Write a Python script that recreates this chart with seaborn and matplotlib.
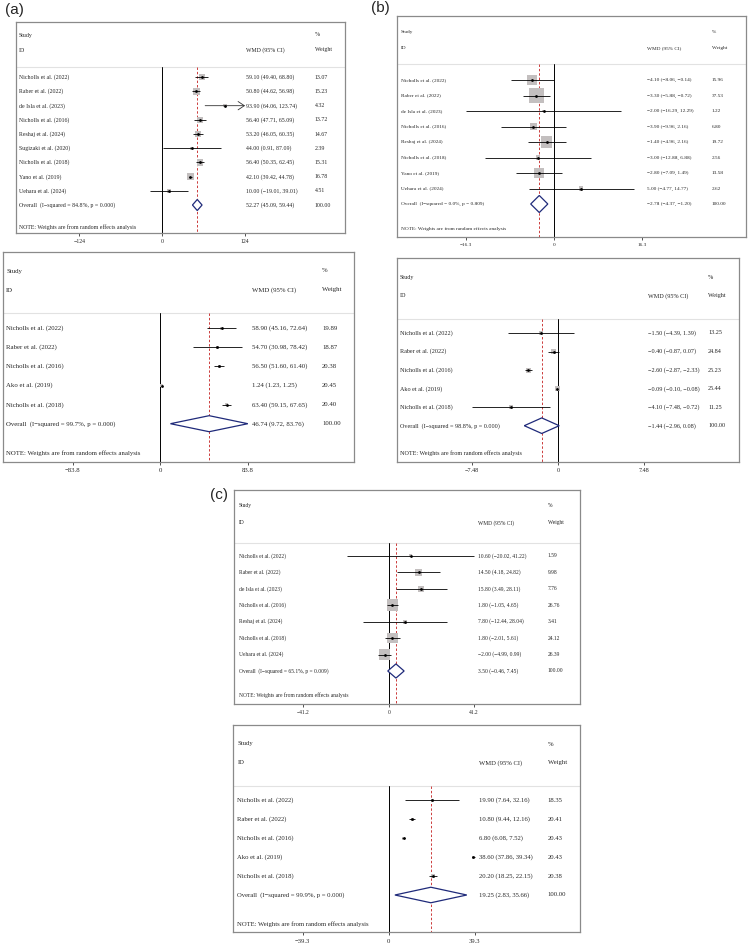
import numpy as np
import seaborn as sns
import matplotlib.pyplot as plt
from matplotlib.transforms import blended_transform_factory

# ---- (a) upper panel
studies_a1 = ["Nicholls et al. (2022)", "Raber et al. (2022)", "de Isla et al. (2023)",
              "Nicholls et al. (2016)", "Reshaj et al. (2024)", "Sugizaki et al. (2020)",
              "Nicholls et al. (2018)", "Yano et al. (2019)", "Uehara et al. (2024)"]
est_a1 = [59.10, 50.80, 93.90, 56.40, 53.20, 44.00, 56.40, 42.10, 10.00]
lo_a1 = [49.40, 44.62, 64.06, 47.71, 46.05, 0.91, 50.35, 39.42, -19.01]
hi_a1 = [68.80, 56.98, 123.74, 65.09, 60.35, 87.09, 62.45, 44.78, 39.01]
w_a1 = [13.07, 15.23, 4.32, 13.72, 14.67, 2.39, 15.31, 16.78, 4.51]
arrow_a1 = [False, False, True, False, False, False, False, False, False]
overall_a1 = (52.27, 45.09, 59.44)
het_a1 = ("84.8%", "0.000")
tick_a1 = 124

# ---- (a) lower panel
studies_a2 = ["Nicholls et al. (2022)", "Raber et al. (2022)", "Nicholls et al. (2016)",
              "Ako et al. (2019)", "Nicholls et al. (2018)"]
est_a2 = [58.90, 54.70, 56.50, 1.24, 63.40]
lo_a2 = [45.16, 30.98, 51.60, 1.23, 59.15]
hi_a2 = [72.64, 78.42, 61.40, 1.25, 67.65]
w_a2 = [19.89, 18.87, 20.38, 20.45, 20.40]
overall_a2 = (46.74, 9.72, 83.76)
het_a2 = ("99.7%", "0.000")
tick_a2 = 83.8

# ---- (b) upper panel
studies_b1 = ["Nicholls et al. (2022)", "Raber et al. (2022)", "de Isla et al. (2023)",
              "Nicholls et al. (2016)", "Reshaj et al. (2024)", "Nicholls et al. (2018)",
              "Yano et al. (2019)", "Uehara et al. (2024)"]
est_b1 = [-4.10, -3.30, -2.00, -3.90, -1.40, -3.00, -2.80, 5.00]
lo_b1 = [-8.06, -5.88, -16.29, -9.96, -4.96, -12.88, -7.09, -4.77]
hi_b1 = [-0.14, -0.72, 12.29, 2.16, 2.16, 6.88, 1.49, 14.77]
w_b1 = [15.96, 37.53, 1.22, 6.80, 19.72, 2.56, 13.58, 2.62]
overall_b1 = (-2.78, -4.37, -1.20)
het_b1 = ("0.0%", "0.809")
tick_b1 = 16.3

# ---- (b) lower panel
studies_b2 = ["Nicholls et al. (2022)", "Raber et al. (2022)", "Nicholls et al. (2016)",
              "Ako et al. (2019)", "Nicholls et al. (2018)"]
est_b2 = [-1.50, -0.40, -2.60, -0.09, -4.10]
lo_b2 = [-4.39, -0.87, -2.87, -0.10, -7.48]
hi_b2 = [1.39, 0.07, -2.33, -0.08, -0.72]
w_b2 = [13.25, 24.84, 25.23, 25.44, 11.25]
overall_b2 = (-1.44, -2.96, 0.08)
het_b2 = ("98.8%", "0.000")
tick_b2 = 7.48

# ---- (c) upper panel
studies_c1 = ["Nicholls et al. (2022)", "Raber et al. (2022)", "de Isla et al. (2023)",
              "Nicholls et al. (2016)", "Reshaj et al. (2024)", "Nicholls et al. (2018)",
              "Uehara et al. (2024)"]
est_c1 = [10.60, 14.50, 15.80, 1.80, 7.80, 1.80, -2.00]
lo_c1 = [-20.02, 4.18, 3.49, -1.05, -12.44, -2.01, -4.99]
hi_c1 = [41.22, 24.82, 28.11, 4.65, 28.04, 5.61, 0.99]
w_c1 = [1.59, 9.98, 7.76, 26.76, 3.41, 24.12, 26.39]
overall_c1 = (3.50, -0.46, 7.45)
het_c1 = ("65.1%", "0.009")
tick_c1 = 41.2

# ---- (c) lower panel
studies_c2 = ["Nicholls et al. (2022)", "Raber et al. (2022)", "Nicholls et al. (2016)",
              "Ako et al. (2019)", "Nicholls et al. (2018)"]
est_c2 = [19.90, 10.80, 6.80, 38.60, 20.20]
lo_c2 = [7.64, 9.44, 6.08, 37.86, 18.25]
hi_c2 = [32.16, 12.16, 7.52, 39.34, 22.15]
w_c2 = [18.35, 20.41, 20.43, 20.43, 20.38]
overall_c2 = (19.25, 2.83, 35.66)
het_c2 = ("99.9%", "0.000")
tick_c2 = 39.3

sns.set_style("white")
plt.rcParams['font.family'] = ['Liberation Serif', 'DejaVu Serif']

W, H = 748, 944
fig = plt.figure(figsize=(W / 100, H / 100), dpi=100)

SQ = '#c3bfbf'
NAVY = '#1f2a7a'
RED = '#cc3b3b'
BOX = '#8a8a8a'


def fmt(v):
    return f"{v:.2f}".replace("-", "\u2212")


def forest(lay, studies, est, lo, hi, w, overall, het, tick, arrow=None):
    L, R, T, B = lay["box"]
    ax = fig.add_axes([L / W, 1 - B / H, (R - L) / W, (B - T) / H])
    y0, dy = lay["y0"], lay["dy"]

    def row(px):
        return (px - y0) / dy

    def fx(px):
        return (px - L) / (R - L)

    ax.set_xlim((L - lay["zero"]) / lay["ppu"], (R - lay["zero"]) / lay["ppu"])
    ax.set_ylim(row(B), row(T))
    fs = lay["fs"]
    n = len(studies)
    ys = np.arange(n)

    # weight boxes
    side = lay["k"] * np.sqrt(np.array(w)) * 0.72
    ax.scatter(est, ys, s=side ** 2, marker='s', color=SQ, linewidths=0, zorder=2)

    # confidence intervals
    for i in range(n):
        if arrow is not None and arrow[i]:
            ax.annotate('', xy=(hi[i], i), xytext=(lo[i], i),
                        arrowprops=dict(arrowstyle='->,head_length=0.45,head_width=0.3',
                                        lw=0.6, color='#333333', shrinkA=0, shrinkB=0),
                        zorder=3)
        else:
            ax.hlines(i, lo[i], hi[i], color='black', lw=0.6, zorder=3)

    sns.scatterplot(x=est, y=ys, marker='o', s=4, color='black', linewidth=0,
                    ax=ax, legend=False, zorder=4)

    # pooled estimate
    ov, ol, oh = overall
    dh = lay["dh"]
    ax.fill([ol, ov, oh, ov], [n, n - dh, n, n + dh], facecolor='white',
            edgecolor=NAVY, lw=0.9, zorder=3)

    ysep = row(lay["sep"])
    ax.plot([0, 0], [ysep, row(B)], color='black', lw=0.7, zorder=1)
    ax.plot([ov, ov], [ysep, row(B)], color=RED, lw=0.7, ls=(0, (2.5, 2)), zorder=1)
    ax.axhline(ysep, color='#e2e2e2', lw=0.8, zorder=0)

    tr = blended_transform_factory(ax.transAxes, ax.transData)
    xs, xw, xp = fx(lay["xs"]), fx(lay["xw"]), fx(lay["xp"])
    kw = dict(transform=tr, fontsize=fs, va='center', ha='left')
    ax.text(xs, row(lay["study"]), "Study", **kw)
    ax.text(xs, row(lay["id"]), "ID", **kw)
    ax.text(xw, row(lay["id"]), "WMD (95% CI)", **kw)
    ax.text(xp, row(lay["study"]), "%", **kw)
    ax.text(xp, row(lay["id"]), "Weight", **kw)
    for i in range(n):
        ax.text(xs, i, studies[i], **kw)
        ax.text(xw, i, f"{fmt(est[i])} ({fmt(lo[i])}, {fmt(hi[i])})", **kw)
        ax.text(xp, i, f"{w[i]:.2f}", **kw)
    ax.text(xs, n, f"Overall  (I\u2212squared = {het[0]}, p = {het[1]})", **kw)
    ax.text(xw, n, f"{fmt(ov)} ({fmt(ol)}, {fmt(oh)})", **kw)
    ax.text(xp, n, "100.00", **kw)
    ax.text(xs, row(lay["note"]), "NOTE: Weights are from random effects analysis", **kw)

    ax.set_xticks([-tick, 0, tick])
    ax.set_xticklabels([f"\u2212{tick:g}", "0", f"{tick:g}"])
    ax.set_yticks([])
    ax.tick_params(axis='x', direction='out', length=2.5, width=0.6, color='#333333',
                   labelsize=fs, pad=2, bottom=True)
    for s in ax.spines.values():
        s.set_color(BOX)
        s.set_linewidth(0.9)
    ax.set_xlabel("")
    ax.set_ylabel("")
    return ax


lay_a1 = dict(box=(16, 345, 22, 233), zero=162.3, ppu=0.669, study=35, id=50, sep=67,
              y0=77.3, dy=14.19, note=226.7, xs=19, xw=246, xp=315, fs=4.2, k=1.75, dh=0.39)
lay_a2 = dict(box=(3, 354, 252, 462), zero=160.3, ppu=1.045, study=271, id=290, sep=313,
              y0=328.3, dy=19.08, note=453.3, xs=6, xw=252, xp=322, fs=4.9, k=0.7, dh=0.42)
lay_b1 = dict(box=(397, 746, 16, 237), zero=554.3, ppu=5.4, study=32.3, id=47.7, sep=64.3,
              y0=80, dy=15.5, note=229.3, xs=401, xw=647, xp=712, fs=3.8, k=2.56, dh=0.55)
lay_b2 = dict(box=(397, 739, 258, 462), zero=558.3, ppu=11.5, study=277.3, id=295.7, sep=319,
              y0=333, dy=18.54, note=452.7, xs=400, xw=648, xp=708, fs=4.4, k=1.0, dh=0.42)
lay_c1 = dict(box=(234, 580, 490, 703.5), zero=388.7, ppu=2.07, study=506, id=522.7, sep=542.7,
              y0=555.7, dy=16.47, note=695.5, xs=238.7, xw=478.3, xp=547.7, fs=4.0, k=2.2, dh=0.43)
lay_c2 = dict(box=(233, 580, 725, 932.3), zero=388.7, ppu=2.19, study=744, id=762.7, sep=786,
              y0=800.3, dy=18.94, note=923.7, xs=237.3, xw=478.7, xp=547.7, fs=4.8, k=0.7, dh=0.41)

forest(lay_a1, studies_a1, est_a1, lo_a1, hi_a1, w_a1, overall_a1, het_a1, tick_a1, arrow_a1)
forest(lay_a2, studies_a2, est_a2, lo_a2, hi_a2, w_a2, overall_a2, het_a2, tick_a2)
forest(lay_b1, studies_b1, est_b1, lo_b1, hi_b1, w_b1, overall_b1, het_b1, tick_b1)
forest(lay_b2, studies_b2, est_b2, lo_b2, hi_b2, w_b2, overall_b2, het_b2, tick_b2)
forest(lay_c1, studies_c1, est_c1, lo_c1, hi_c1, w_c1, overall_c1, het_c1, tick_c1)
forest(lay_c2, studies_c2, est_c2, lo_c2, hi_c2, w_c2, overall_c2, het_c2, tick_c2)

lab = dict(fontsize=11, family=['Liberation Sans', 'DejaVu Sans'], va='center', ha='left')
fig.text(5 / W, 1 - 10 / H, "(a)", **lab)
fig.text(371 / W, 1 - 8 / H, "(b)", **lab)
fig.text(210 / W, 1 - 495 / H, "(c)", **lab)

fig.savefig("out.png", dpi=100)
